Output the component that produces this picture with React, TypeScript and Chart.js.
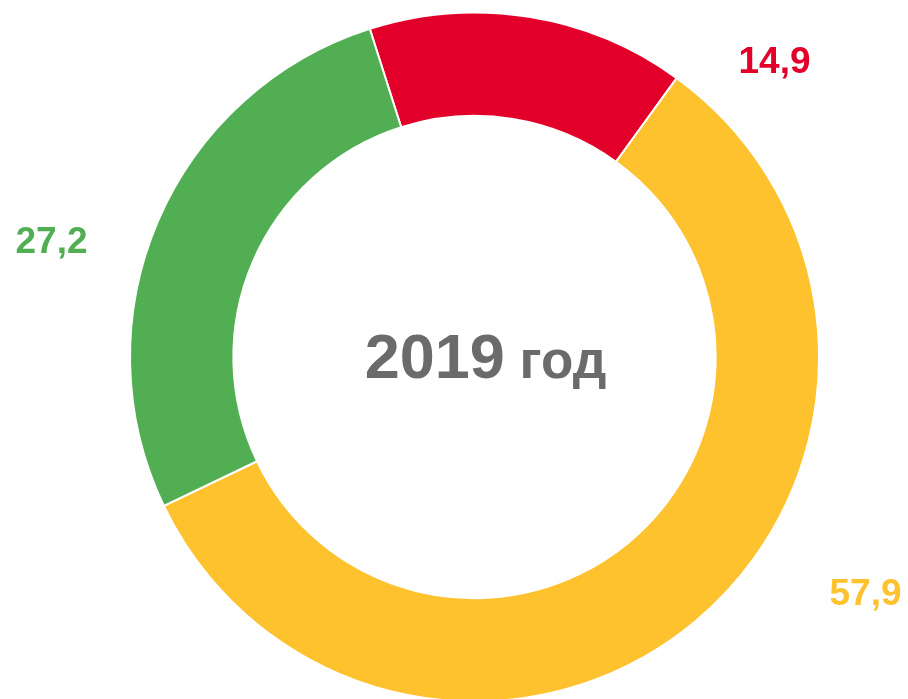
import React, { useEffect, useRef } from "react";
import { Chart, registerables } from "chart.js";

Chart.register(...registerables);

const categories = ["Красный", "Жёлтый", "Зелёный"];
const values = [14.9, 57.9, 27.2];
const valueLabels = ["14,9", "57,9", "27,2"];
const colors = ["#E2002B", "#FEC22E", "#52AE52"];
const centerYear = "2019";
const centerWord = "год";

// label anchor offsets (px) from the doughnut centre, layout only
const labelOffsets: [number, number][] = [
  [300, -284.5],
  [391, 247.5],
  [-423, -104.5],
];

const FONT = "'Liberation Sans', Arial, sans-serif";

const textPlugin = {
  id: "textPlugin",
  afterDraw(chart: any) {
    const meta = chart.getDatasetMeta(0);
    const arc = meta.data[0];
    if (!arc) return;
    const cx = arc.x;
    const cy = arc.y;
    const ctx = chart.ctx;
    ctx.save();
    // centre text
    ctx.fillStyle = "#6B6B6B";
    ctx.textBaseline = "alphabetic";
    ctx.textAlign = "left";
    const f1 = `bold 63px ${FONT}`;
    const f2 = `bold 53px ${FONT}`;
    ctx.font = f1;
    const w1 = ctx.measureText(centerYear).width;
    ctx.font = f2;
    const sp = ctx.measureText(" ").width;
    const w2 = ctx.measureText(centerWord).width;
    const total = w1 + sp + w2;
    const startX = cx + 11 - total / 2;
    ctx.font = f1;
    ctx.fillText(centerYear, startX, cy + 20.5);
    ctx.font = f2;
    ctx.fillText(centerWord, startX + w1 + sp, cy + 20.5);
    // value labels
    ctx.font = `bold 37px ${FONT}`;
    ctx.textAlign = "center";
    valueLabels.forEach((lbl, i) => {
      ctx.fillStyle = colors[i];
      ctx.fillText(lbl, cx + labelOffsets[i][0], cy + labelOffsets[i][1]);
    });
    ctx.restore();
  },
};

export default function App() {
  const ref = useRef<HTMLCanvasElement>(null);
  useEffect(() => {
    if (!ref.current) return;
    const chart = new Chart(ref.current, {
      type: "doughnut",
      data: {
        labels: categories,
        datasets: [
          {
            data: values,
            backgroundColor: colors,
            borderColor: "#FFFFFF",
            borderWidth: 2,
          },
        ],
      },
      options: {
        animation: false,
        responsive: false,
        rotation: -17.7,
        radius: 344.5,
        cutout: "70%",
        layout: { padding: { left: 41, top: 15, right: 0, bottom: 0 } },
        plugins: {
          legend: { display: false },
          tooltip: { enabled: false },
        },
      },
      plugins: [textPlugin],
    });
    return () => chart.destroy();
  }, []);
  return (
    <div style={{ position: "fixed", left: 0, top: 0, width: 908, height: 699, background: "#fff" }}>
      <canvas ref={ref} width={908} height={699} />
    </div>
  );
}
